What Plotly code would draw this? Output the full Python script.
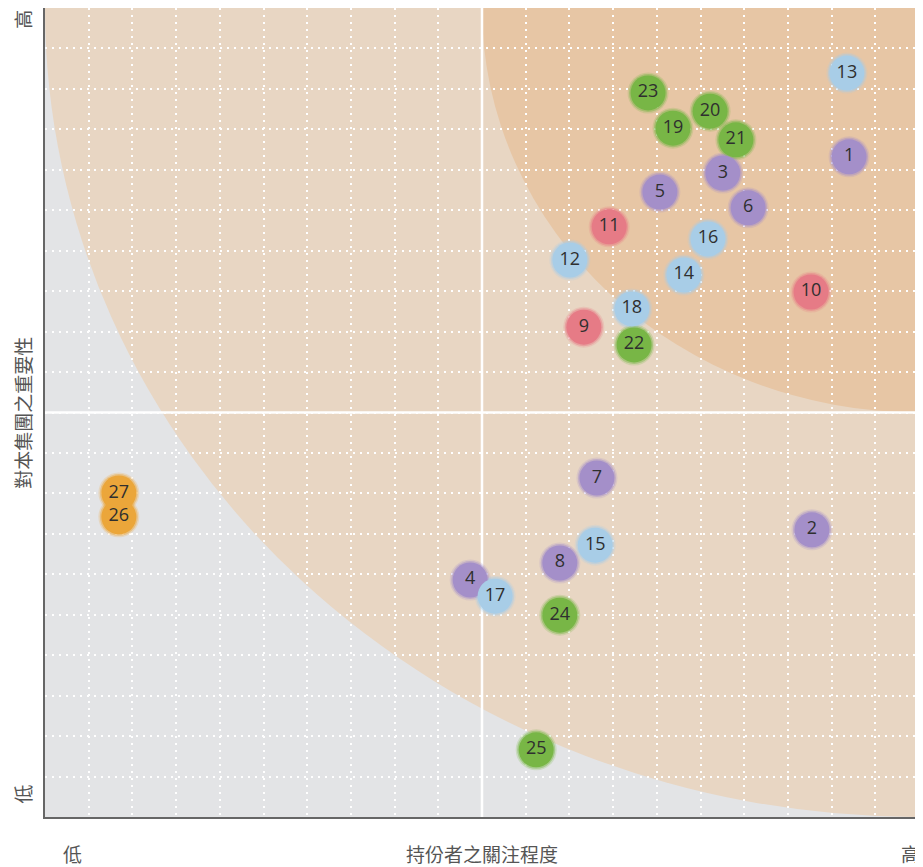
import plotly.graph_objects as go

# ---- data ----
ids = [str(i) for i in range(1, 28)]
concern = [18.40, 17.55, 15.51, 9.73, 14.07, 16.09, 12.63, 11.78, 12.33, 17.53,
           12.91, 12.01, 18.35, 14.62, 12.59, 15.17, 10.30, 13.43, 14.37, 15.22,
           15.81, 13.48, 13.80, 11.78, 11.24, 1.69, 1.69]
importance = [16.32, 7.10, 15.92, 5.86, 15.45, 15.06, 8.38, 6.28, 12.11, 12.98,
              14.59, 13.77, 18.39, 13.40, 6.72, 14.29, 5.46, 12.56, 17.03, 17.45,
              16.74, 11.67, 17.90, 4.99, 1.66, 7.42, 8.01]
groups = ["p"] * 8 + ["r"] * 3 + ["b"] * 7 + ["g"] * 7 + ["o"] * 2

palette = {"p": "#a48fc9", "r": "#e67b86", "b": "#a8cde7", "g": "#78b646", "o": "#eba63a"}
colors = [palette[g] for g in groups]

x_title = "持份者之關注程度"
y_title = "對本集團之重要性"
low_label = "低"
high_label = "高"

fig = go.Figure()

# soft halo
fig.add_trace(go.Scatter(
    x=concern, y=importance, mode="markers",
    marker=dict(size=41, color=colors, opacity=0.22, line=dict(width=0)),
    hoverinfo="skip", showlegend=False))
fig.add_trace(go.Scatter(
    x=concern, y=importance, mode="markers",
    marker=dict(size=38, color=colors, opacity=0.45, line=dict(width=0)),
    hoverinfo="skip", showlegend=False))
fig.add_trace(go.Scatter(
    x=concern, y=importance, mode="markers+text",
    marker=dict(size=35, color=colors, line=dict(width=0)),
    text=ids, textposition="middle center",
    textfont=dict(family="Open Sans", size=18, color="#2f2f2f"),
    showlegend=False))

shapes = [
    dict(type="circle", xref="x", yref="y", x0=0, x1=40, y0=0, y1=40,
         fillcolor="#e8d6c3", line=dict(width=0), layer="below"),
    dict(type="circle", xref="x", yref="y", x0=10, x1=30, y0=10, y1=30,
         fillcolor="#e7c6a5", line=dict(width=0), layer="below"),
    dict(type="line", xref="x", yref="y", x0=10, x1=10, y0=0, y1=20,
         line=dict(color="#ffffff", width=2.5), layer="below"),
    dict(type="line", xref="x", yref="y", x0=0, x1=20, y0=10, y1=10,
         line=dict(color="#ffffff", width=2.5), layer="below"),
]

lab_font = dict(family="Noto Sans CJK TC", size=19, color="#555555")
annotations = [
    dict(text=x_title, xref="paper", yref="paper", x=0.5, y=-0.045, showarrow=False,
         font=lab_font, xanchor="center", yanchor="middle"),
    dict(text=low_label, xref="paper", yref="paper", x=0.032, y=-0.045, showarrow=False,
         font=lab_font, xanchor="center", yanchor="middle"),
    dict(text=high_label, xref="paper", yref="paper", x=0.99, y=-0.045, showarrow=False,
         font=lab_font, xanchor="center", yanchor="middle"),
    dict(text=y_title, xref="paper", yref="paper", x=-0.026, y=0.5, showarrow=False,
         font=lab_font, textangle=-90, xanchor="center", yanchor="middle"),
    dict(text=high_label, xref="paper", yref="paper", x=-0.026, y=1.0, showarrow=False,
         font=lab_font, textangle=-90, xanchor="center", yanchor="top"),
    dict(text=low_label, xref="paper", yref="paper", x=-0.026, y=0.028, showarrow=False,
         font=lab_font, textangle=-90, xanchor="center", yanchor="middle"),
]

axis_common = dict(range=[0, 20], dtick=1, tick0=0, showgrid=True, gridcolor="#ffffff",
                   griddash="2px,5px", gridwidth=1.5, zeroline=False, showticklabels=False,
                   ticks="", showline=True, linecolor="#666666", linewidth=1.5,
                   fixedrange=True)

fig.update_layout(
    width=915, height=859,
    margin=dict(l=37, r=4, t=0, b=50),
    paper_bgcolor="#ffffff", plot_bgcolor="#e3e4e6",
    xaxis=axis_common, yaxis=axis_common,
    shapes=shapes, annotations=annotations,
    showlegend=False,
)

fig.write_html("out.html")
